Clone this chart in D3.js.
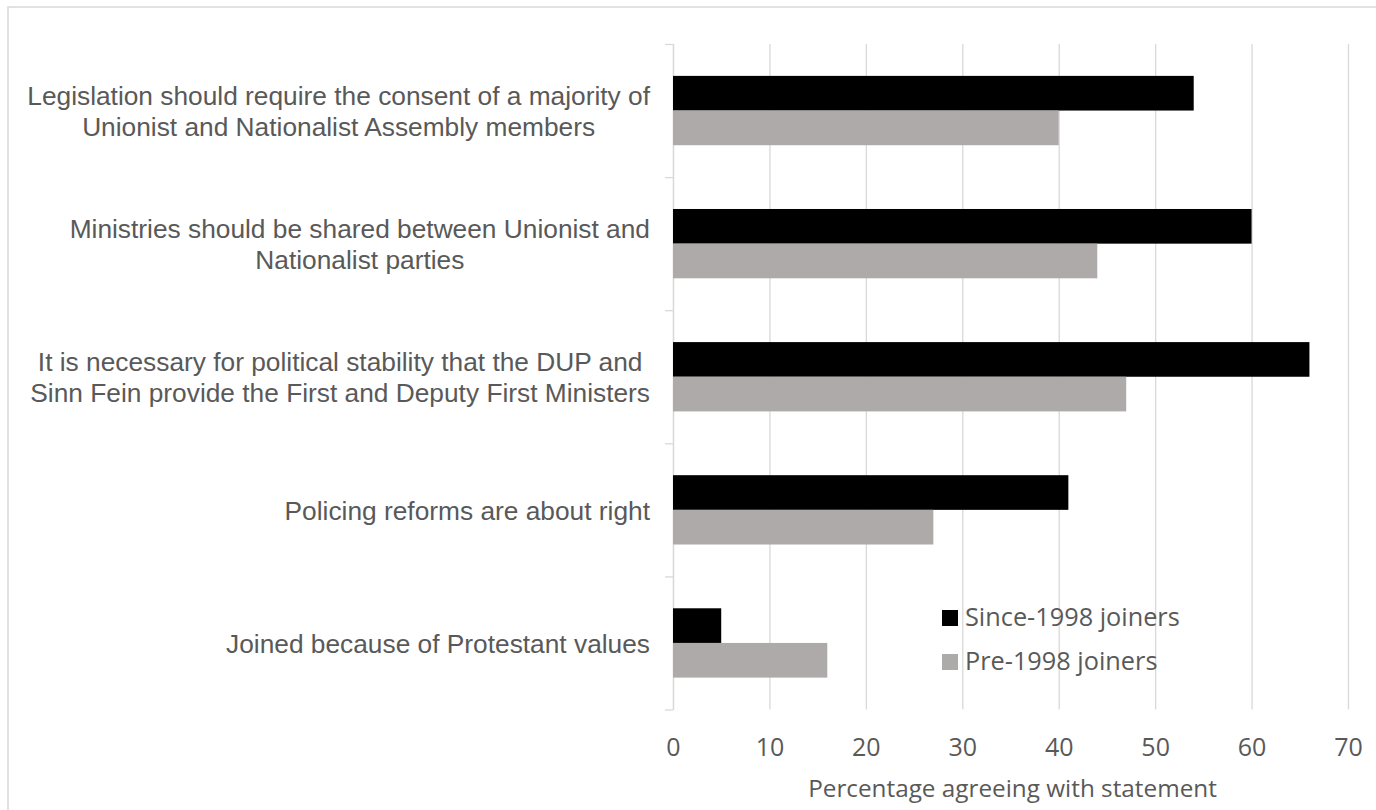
<!DOCTYPE html>
<html>
<head>
<meta charset="utf-8">
<script src="https://cdn.jsdelivr.net/npm/d3@7"></script>
<style>
  html, body { margin: 0; padding: 0; background: #fff; }
  svg { display: block; }
</style>
</head>
<body>
<div id="chart"></div>
<script>
// data
const categories = [
  'Legislation should require the consent of a majority of|Unionist and Nationalist Assembly members',
  'Ministries should be shared between Unionist and|Nationalist parties',
  'It is necessary for political stability that the DUP and|Sinn Fein provide the First and Deputy First Ministers',
  'Policing reforms are about right',
  'Joined because of Protestant values'
]
const seriesNames = [ 'Since-1998 joiners', 'Pre-1998 joiners' ]
const since1998 = [ 54, 60, 66, 41, 5 ]
const pre1998 = [ 40, 44, 47, 27, 16 ]
const xTicks = [ 0, 10, 20, 30, 40, 50, 60, 70 ]

// ===================================================================

const WIDTH = 1376
const HEIGHT = 810

const PLOT = { left: 673, right: 1348, top: 44, bottom: 709.5 }

const TEXT_COLOR = '#595959'
const GRID_COLOR = '#d9d9d9'
const COLORS = [ '#000000', '#aeaaaa' ]

const LABEL_FONT = '"Liberation Sans", Arial, sans-serif'
const AXIS_FONT = '"Open Sans", sans-serif'

const svg = d3.select('#chart')
  .append('svg')
    .attr('width', WIDTH)
    .attr('height', HEIGHT)

// chart border (runs off the right and bottom edges)
svg.append('rect')
  .attr('x', 8)
  .attr('y', 7)
  .attr('width', WIDTH + 20)
  .attr('height', HEIGHT + 20)
  .attr('fill', 'none')
  .attr('stroke', GRID_COLOR)
  .attr('stroke-width', 1.5)

const x = d3.scaleLinear()
  .domain([ 0, 70 ])
  .range([ PLOT.left, PLOT.right ])

const y = d3.scaleBand()
  .domain(categories)
  .range([ PLOT.top, PLOT.bottom ])
  .padding(0)

const ySeries = d3.scaleBand()
  .domain(seriesNames)
  .range([ 0, y.bandwidth() ])
  .paddingInner(0)
  .paddingOuter(0.92)

// vertical gridlines + tick labels
const xAxis = svg.append('g')
  .attr('transform', `translate(0, ${PLOT.bottom})`)
  .call(d3.axisBottom(x)
    .tickValues(xTicks)
    .tickSize(-(PLOT.bottom - PLOT.top))
    .tickFormat(d3.format('d')))

xAxis.select('.domain').remove()
xAxis.selectAll('.tick line')
  .attr('stroke', GRID_COLOR)
  .attr('stroke-width', 1.3)
xAxis.selectAll('.tick text')
  .attr('y', 46)
  .attr('dy', 0)
  .attr('fill', TEXT_COLOR)
  .style('font-family', AXIS_FONT)
  .style('font-size', '25px')

// left category axis: line with ticks on band boundaries
const yEdges = d3.scaleLinear()
  .domain([ 0, categories.length ])
  .range([ PLOT.top, PLOT.bottom ])

const yAxis = svg.append('g')
  .attr('transform', `translate(${PLOT.left}, 0)`)
  .call(d3.axisLeft(yEdges)
    .ticks(categories.length)
    .tickSize(8)
    .tickSizeOuter(0)
    .tickFormat(''))

yAxis.select('.domain').attr('stroke', GRID_COLOR).attr('stroke-width', 1.3)
yAxis.selectAll('.tick line').attr('stroke', GRID_COLOR).attr('stroke-width', 1.3)

// bars
const rows = categories.map((c, i) => ({ category: c, values: [ since1998[i], pre1998[i] ] }))

const groups = svg.append('g')
  .selectAll('g')
  .data(rows)
  .join('g')
    .attr('transform', d => `translate(0, ${y(d.category)})`)

groups.selectAll('rect')
  .data(d => d.values.map((v, j) => ({ series: seriesNames[j], value: v, color: COLORS[j] })))
  .join('rect')
    .attr('x', x(0))
    .attr('y', d => ySeries(d.series))
    .attr('width', d => x(d.value) - x(0))
    .attr('height', ySeries.bandwidth())
    .attr('fill', d => d.color)

// category labels: block right-aligned, lines centred on each other
const LABEL_RIGHT = 650
const LINE_HEIGHT = 31

const labels = svg.append('g')
  .style('font-family', LABEL_FONT)
  .style('font-size', '26.3px')
  .attr('fill', TEXT_COLOR)

categories.forEach(c => {
  const lines = c.split('|')
  const g = labels.append('g')
  const texts = lines.map((line, k) => g.append('text')
    .attr('text-anchor', 'middle')
    .attr('y', y(c) + y.bandwidth() / 2 + (k - (lines.length - 1) / 2) * LINE_HEIGHT + 1)
    .attr('dy', '0.35em')
    .text(line))
  const maxWidth = d3.max(texts, t => t.node().getComputedTextLength())
  texts.forEach(t => t.attr('x', LABEL_RIGHT - maxWidth / 2))
})

// axis title
svg.append('text')
  .attr('x', (PLOT.left + PLOT.right) / 2 + 2)
  .attr('y', 797)
  .attr('text-anchor', 'middle')
  .attr('fill', TEXT_COLOR)
  .style('font-family', AXIS_FONT)
  .style('font-size', '24.3px')
  .text('Percentage agreeing with statement')

// legend
const legend = svg.append('g')
  .attr('transform', 'translate(942, 610)')

const legendItems = legend.selectAll('g')
  .data(seriesNames)
  .join('g')
    .attr('transform', (d, i) => `translate(0, ${i * 44})`)

legendItems.append('rect')
  .attr('width', 16)
  .attr('height', 16)
  .attr('fill', (d, i) => COLORS[i])

legendItems.append('text')
  .attr('x', 23)
  .attr('y', 15.5)
  .attr('fill', TEXT_COLOR)
  .style('font-family', AXIS_FONT)
  .style('font-size', '25.3px')
  .text(d => d)
</script>
</body>
</html>
